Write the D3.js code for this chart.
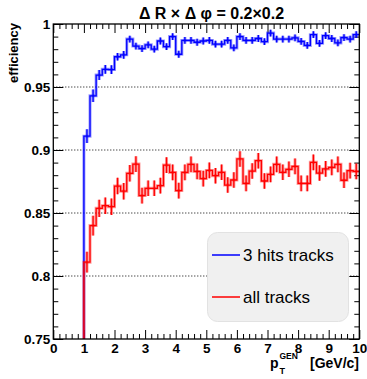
<!DOCTYPE html>
<html><head><meta charset="utf-8">
<script src="https://cdn.jsdelivr.net/npm/d3@7"></script>
<style>
body{margin:0;background:#fff;}
svg{display:block;font-family:"Liberation Sans",Arial,sans-serif;}
</style></head>
<body><svg id="c" width="367" height="379"></svg>
<script>
const binStart = 1.0;
const binWidth = 0.2;
const hits3 = [0.911,0.943,0.9595,0.964,0.9638,0.974,0.9755,0.988,0.9825,0.9805,0.9835,0.980,0.9865,0.982,0.990,0.976,0.987,0.987,0.9855,0.9865,0.987,0.984,0.984,0.987,0.981,0.990,0.987,0.987,0.9885,0.986,0.9928,0.988,0.988,0.988,0.989,0.9862,0.983,0.9915,0.9847,0.9907,0.9885,0.985,0.9892,0.988,0.9915];
const hits3Err = [0.0055,0.005,0.004,0.0035,0.0035,0.003,0.003,0.0027,0.0027,0.0027,0.0027,0.0027,0.0027,0.0027,0.0027,0.0027,0.0027,0.0027,0.0027,0.0027,0.0027,0.0027,0.0027,0.0027,0.0027,0.0027,0.0027,0.0027,0.0027,0.0027,0.0027,0.0027,0.0027,0.0027,0.0027,0.0027,0.0027,0.0027,0.0027,0.0027,0.0027,0.0027,0.0027,0.0027,0.0027];
const allTracks = [0.811,0.840,0.8537,0.8558,0.855,0.8714,0.8673,0.8815,0.8888,0.8638,0.8696,0.8696,0.8717,0.888,0.8822,0.8678,0.8822,0.8886,0.883,0.8773,0.8838,0.8796,0.8823,0.8722,0.8762,0.8929,0.8735,0.8833,0.8915,0.8754,0.8807,0.8886,0.8823,0.8847,0.887,0.8735,0.8735,0.8902,0.8817,0.885,0.8862,0.8886,0.876,0.8836,0.883];
const allTracksErr = [0.0082,0.0078,0.0068,0.0065,0.0065,0.0065,0.0065,0.0065,0.0062,0.0062,0.0062,0.0062,0.0062,0.0062,0.0062,0.0062,0.0062,0.0062,0.0062,0.0062,0.0062,0.0062,0.0062,0.0062,0.0062,0.0062,0.0062,0.0062,0.0062,0.0062,0.0062,0.0062,0.0062,0.0062,0.0062,0.0062,0.0062,0.0062,0.0062,0.0062,0.0062,0.0062,0.0062,0.0062,0.0062];
const xTicks = [0,1,2,3,4,5,6,7,8,9,10];
const yTicks = [0.75,0.8,0.85,0.9,0.95,1];
const yTickLabels = ["0.75","0.8","0.85","0.9","0.95","1"];
const seriesNames = ["3 hits tracks","all tracks"];
const seriesColors = ["#0000ff","#ff0000"];

const svg = d3.select("#c");
const L=53.3, R=359.3, T=24, B=339;
const x = d3.scaleLinear().domain([0,10]).range([L,R]);
const y = d3.scaleLinear().domain([0.75,1]).range([B,T]);

svg.append("defs").append("clipPath").attr("id","clip")
  .append("rect").attr("x",L).attr("y",T).attr("width",R-L).attr("height",B-T);

// grid
svg.append("g").selectAll("line").data(yTicks.filter(v=>v>0.75&&v<1)).join("line")
  .attr("x1",L).attr("x2",R).attr("y1",d=>y(d)).attr("y2",d=>y(d))
  .attr("stroke","#000").attr("stroke-width",1).attr("stroke-dasharray","1,2");

const xMinor = d3.range(0,50).map(i=>i*0.2).filter(v=>Math.abs(v-Math.round(v))>1e-6);
const yMinor = d3.range(75,101).map(i=>i/100).filter(v=>Math.abs(v*20-Math.round(v*20))>1e-6);

function styleAxis(g){ g.select(".domain").remove(); g.selectAll("line").attr("stroke","#000"); }

svg.append("g").attr("transform",`translate(0,${B})`)
  .call(d3.axisBottom(x).tickValues(xTicks).tickSize(-9).tickPadding(4).tickFormat(d3.format("d")))
  .call(styleAxis)
  .call(g=>g.selectAll("text").attr("font-size","13.5px").attr("font-weight","bold").attr("fill","#000").attr("font-family","Liberation Sans, Arial, sans-serif"));
svg.append("g").attr("transform",`translate(0,${B})`)
  .call(d3.axisBottom(x).tickValues(xMinor).tickSize(-5).tickFormat(""))
  .call(styleAxis);
svg.append("g").attr("transform",`translate(0,${T})`)
  .call(d3.axisTop(x).tickValues(xTicks).tickSize(-9).tickFormat(""))
  .call(styleAxis);
svg.append("g").attr("transform",`translate(0,${T})`)
  .call(d3.axisTop(x).tickValues(xMinor).tickSize(-5).tickFormat(""))
  .call(styleAxis);
svg.append("g").attr("transform",`translate(${L},0)`)
  .call(d3.axisLeft(y).tickValues(yTicks).tickSize(-10).tickPadding(3).tickFormat((d,i)=>yTickLabels[i]))
  .call(styleAxis)
  .call(g=>g.selectAll("text").attr("font-size","13.5px").attr("font-weight","bold").attr("fill","#000").attr("font-family","Liberation Sans, Arial, sans-serif"));
svg.append("g").attr("transform",`translate(${L},0)`)
  .call(d3.axisLeft(y).tickValues(yMinor).tickSize(-5).tickFormat(""))
  .call(styleAxis);
svg.append("g").attr("transform",`translate(${R},0)`)
  .call(d3.axisRight(y).tickValues(yTicks).tickSize(-10).tickFormat(""))
  .call(styleAxis);
svg.append("g").attr("transform",`translate(${R},0)`)
  .call(d3.axisRight(y).tickValues(yMinor).tickSize(-5).tickFormat(""))
  .call(styleAxis);

function drawHist(vals, errs, color){
  const pts = [[0,0],[binStart,0]];
  vals.forEach((v,i)=>{ pts.push([binStart+i*binWidth, v]); pts.push([binStart+(i+1)*binWidth, v]); });
  const line = d3.line().x(d=>x(d[0])).y(d=>y(Math.max(d[1],0.7)));
  const g = svg.append("g").attr("clip-path","url(#clip)");
  const errData = vals.map((v,i)=>({c:binStart+(i+0.5)*binWidth, lo:v-errs[i], hi:v+errs[i]}));
  g.append("path").attr("d",line(pts)).attr("fill","none").attr("stroke",color).attr("stroke-opacity",0.4).attr("stroke-width",3);
  g.selectAll("line.eh").data(errData).join("line").attr("class","eh")
    .attr("x1",d=>x(d.c)).attr("x2",d=>x(d.c)).attr("y1",d=>y(d.lo)).attr("y2",d=>y(d.hi))
    .attr("stroke",color).attr("stroke-opacity",0.4).attr("stroke-width",3);
  g.append("path").attr("d",line(pts)).attr("fill","none").attr("stroke",color).attr("stroke-width",1.3);
  g.selectAll("line.e").data(errData).join("line").attr("class","e")
    .attr("x1",d=>x(d.c)).attr("x2",d=>x(d.c)).attr("y1",d=>y(d.lo)).attr("y2",d=>y(d.hi))
    .attr("stroke",color).attr("stroke-width",1.3);
}
drawHist(hits3, hits3Err, seriesColors[0]);
drawHist(allTracks, allTracksErr, seriesColors[1]);

svg.append("rect").attr("x",L).attr("y",T).attr("width",R-L).attr("height",B-T)
  .attr("fill","none").attr("stroke","#000").attr("stroke-width",1.3);

const lg = svg.append("g");
lg.append("rect").attr("x",207.5).attr("y",232.5).attr("width",141).attr("height",89).attr("rx",10)
  .attr("fill","#f0f0f0").attr("stroke","#e2e2e2");
seriesNames.forEach((n,i)=>{
  const yy = 255 + i*42;
  lg.append("line").attr("x1",212).attr("x2",240).attr("y1",yy).attr("y2",yy)
    .attr("stroke",seriesColors[i]).attr("stroke-width",1.5);
  lg.append("text").attr("x",243).attr("y",yy+6).attr("font-size","17px").attr("fill","#000").text(n);
});

svg.append("text").attr("x",211.5).attr("y",19).attr("text-anchor","middle")
  .attr("font-size","16px").attr("font-weight","bold").text("\u0394 R \u00d7 \u0394 \u03c6 = 0.2\u00d70.2");

svg.append("text").attr("transform","translate(18,23) rotate(-90)").attr("text-anchor","end")
  .attr("font-size","13px").attr("font-weight","bold").text("efficiency");

svg.append("text").attr("x",270).attr("y",367.5).attr("font-size","14px").attr("font-weight","bold").text("p");
svg.append("text").attr("x",279.5).attr("y",373.5).attr("font-size","9px").attr("font-weight","bold").text("T");
svg.append("text").attr("x",279.5).attr("y",358.5).attr("font-size","8.5px").attr("font-weight","bold").text("GEN");
svg.append("text").attr("x",359).attr("y",368).attr("text-anchor","end").attr("font-size","14px").attr("font-weight","bold").text("[GeV/c]");
</script></body></html>
